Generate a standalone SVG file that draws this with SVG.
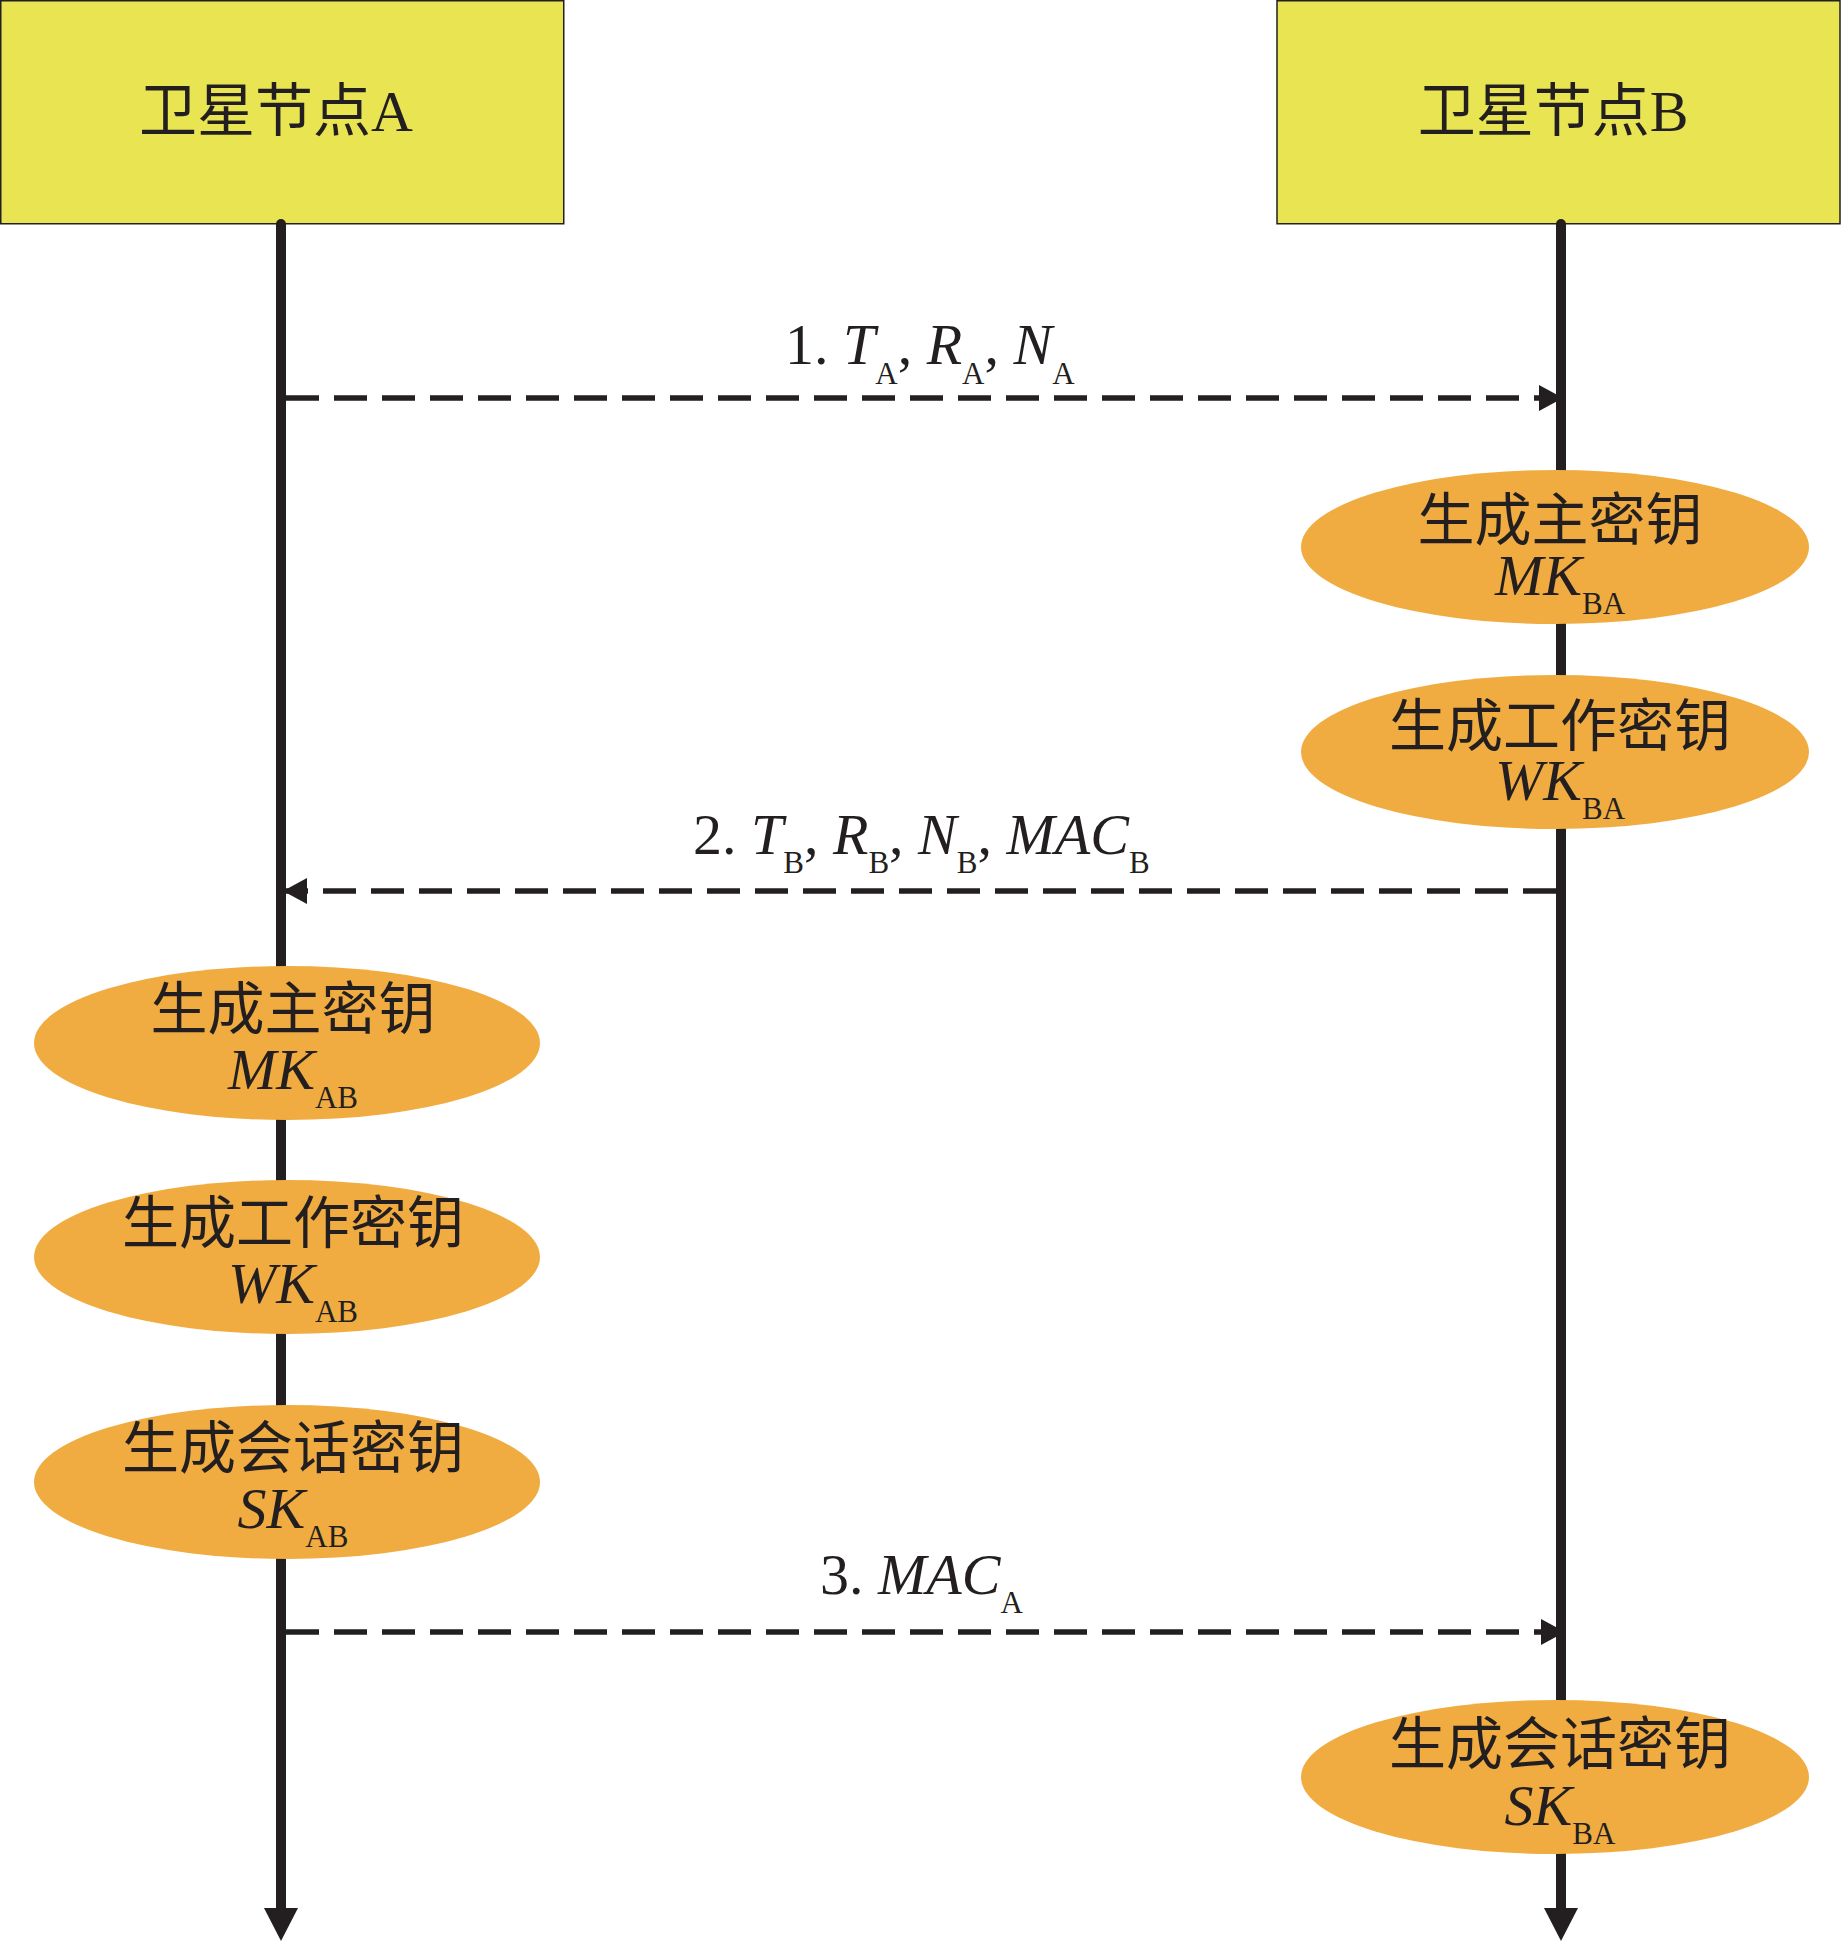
<svg xmlns="http://www.w3.org/2000/svg" width="1841" height="1943" viewBox="0 0 1841 1943">
<style>
.box{fill:#E9E552;stroke:#231f20;stroke-width:1.5}
.ell{fill:#F0AC40;stroke:none}
.life{stroke:#231f20;stroke-width:10;stroke-linecap:round;fill:none}
.msg{stroke:#231f20;stroke-width:5.5;stroke-dasharray:33 15;fill:none}
.t{font-family:"Liberation Serif","Noto Sans CJK SC",serif;fill:#231f20}
.cjk{font-family:"Noto Sans CJK SC","Liberation Serif",sans-serif;font-size:57px;fill:#231f20}
.lbl{font-size:58px}
.it{font-style:italic}
.sub{font-size:31px;font-style:normal}
</style>
<defs>
<marker id="mArrow" markerUnits="userSpaceOnUse" markerWidth="24" markerHeight="26" refX="24" refY="13" orient="auto">
<path d="M0,0 L24,13 L0,26 Z" fill="#231f20"/>
</marker>
<marker id="lArrow" markerUnits="userSpaceOnUse" markerWidth="34" markerHeight="34" refX="2" refY="17" orient="auto">
<path d="M0,0 L33,17 L0,34 Z" fill="#231f20"/>
</marker>
</defs>

<g id="nodeA">
<rect class="box" x="0.75" y="0.75" width="563" height="223"/>
<text class="cjk" x="276" y="131" text-anchor="middle" style="font-size:58px">卫星节点<tspan style="font-family:'Liberation Serif',serif">A</tspan></text>
</g>
<g id="nodeB">
<rect class="box" x="1277" y="0.75" width="563" height="223"/>
<text class="cjk" x="1553" y="131" text-anchor="middle" style="font-size:58px">卫星节点<tspan style="font-family:'Liberation Serif',serif">B</tspan></text>
</g>

<g id="connectors">
<line id="lifelineA" class="life" x1="281" y1="224" x2="281" y2="1910" marker-end="url(#lArrow)"/>
<line id="lifelineB" class="life" x1="1561" y1="224" x2="1561" y2="1910" marker-end="url(#lArrow)"/>
<line id="msg1" class="msg" x1="286" y1="398" x2="1563" y2="398" marker-end="url(#mArrow)"/>
<line id="msg2" class="msg" x1="1556" y1="891" x2="283" y2="891" marker-end="url(#mArrow)"/>
<line id="msg3" class="msg" x1="286" y1="1632" x2="1565" y2="1632" marker-end="url(#mArrow)"/>
<text class="t lbl" x="785" y="364">1. <tspan class="it">T</tspan><tspan class="sub" dy="20">A</tspan><tspan dy="-20">, </tspan><tspan class="it">R</tspan><tspan class="sub" dy="20">A</tspan><tspan dy="-20">, </tspan><tspan class="it">N</tspan><tspan class="sub" dy="20">A</tspan></text>
<text class="t lbl" x="693" y="854">2. <tspan class="it">T</tspan><tspan class="sub" dy="19">B</tspan><tspan dy="-19">, </tspan><tspan class="it">R</tspan><tspan class="sub" dy="19">B</tspan><tspan dy="-19">, </tspan><tspan class="it">N</tspan><tspan class="sub" dy="19">B</tspan><tspan dy="-19">, </tspan><tspan class="it">MAC</tspan><tspan class="sub" dy="19">B</tspan></text>
<text class="t lbl" x="820" y="1594">3. <tspan class="it">MAC</tspan><tspan class="sub" dy="19">A</tspan></text>
</g>

<g id="B_MK">
<ellipse class="ell" cx="1555" cy="547" rx="254" ry="77"/>
<text class="t lbl" text-anchor="middle"><tspan class="cjk" x="1560" y="540">生成主密钥</tspan><tspan class="it" x="1560" y="595">MK</tspan><tspan class="sub" dy="19">BA</tspan></text>
</g>
<g id="B_WK">
<ellipse class="ell" cx="1555" cy="752" rx="254" ry="77"/>
<text class="t lbl" text-anchor="middle"><tspan class="cjk" x="1560" y="746">生成工作密钥</tspan><tspan class="it" x="1560" y="800">WK</tspan><tspan class="sub" dy="19">BA</tspan></text>
</g>
<g id="A_MK">
<ellipse class="ell" cx="287" cy="1043" rx="253" ry="77"/>
<text class="t lbl" text-anchor="middle"><tspan class="cjk" x="293" y="1029">生成主密钥</tspan><tspan class="it" x="293" y="1089">MK</tspan><tspan class="sub" dy="19">AB</tspan></text>
</g>
<g id="A_WK">
<ellipse class="ell" cx="287" cy="1257" rx="253" ry="77"/>
<text class="t lbl" text-anchor="middle"><tspan class="cjk" x="293" y="1243">生成工作密钥</tspan><tspan class="it" x="293" y="1303">WK</tspan><tspan class="sub" dy="19">AB</tspan></text>
</g>
<g id="A_SK">
<ellipse class="ell" cx="287" cy="1482" rx="253" ry="77"/>
<text class="t lbl" text-anchor="middle"><tspan class="cjk" x="293" y="1468">生成会话密钥</tspan><tspan class="it" x="293" y="1528">SK</tspan><tspan class="sub" dy="19">AB</tspan></text>
</g>
<g id="B_SK">
<ellipse class="ell" cx="1555" cy="1777" rx="254" ry="77"/>
<text class="t lbl" text-anchor="middle"><tspan class="cjk" x="1560" y="1764">生成会话密钥</tspan><tspan class="it" x="1560" y="1825">SK</tspan><tspan class="sub" dy="19">BA</tspan></text>
</g>
</svg>
